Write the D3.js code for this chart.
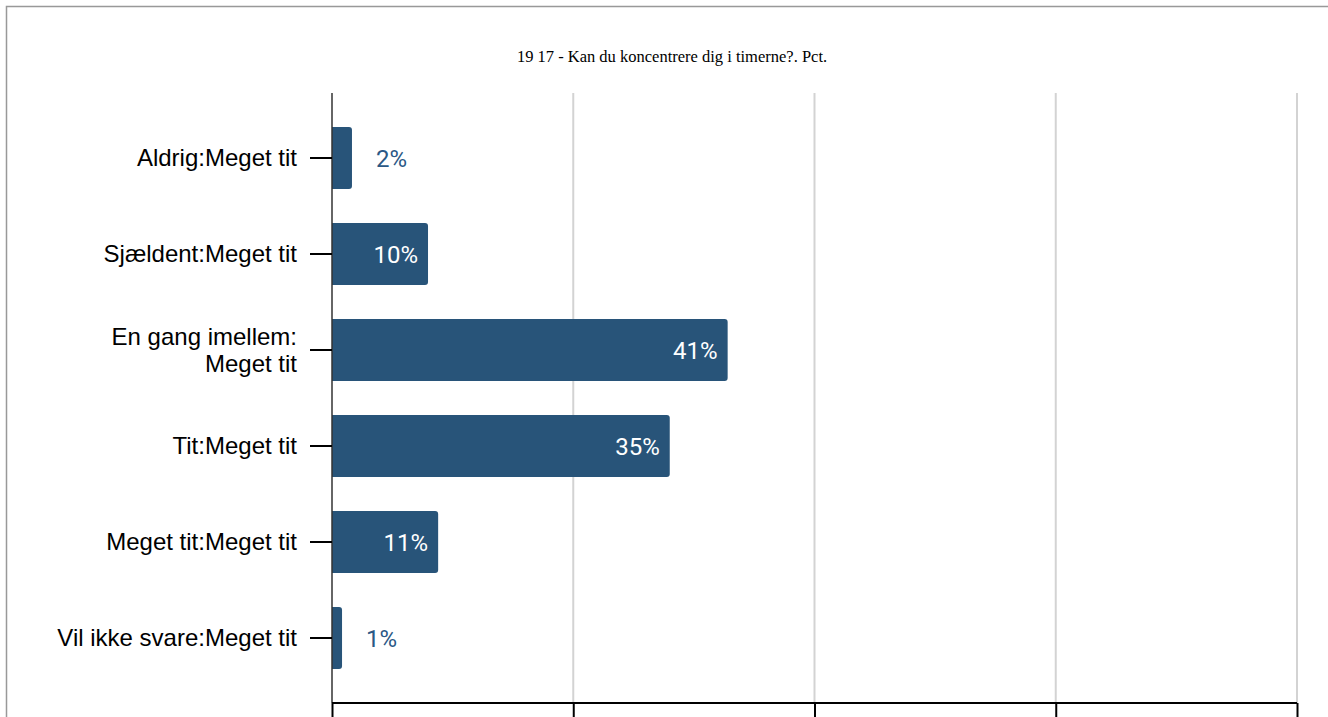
<!DOCTYPE html>
<html><head><meta charset="utf-8">
<script src="https://cdn.jsdelivr.net/npm/d3@7"></script>
<style>body{margin:0;background:#fff}svg{display:block}</style>
</head><body>
<svg id="c" width="1328" height="717"></svg>
<script>
const title = "19 17 - Kan du koncentrere dig i timerne?. Pct.";
const categories = ["Aldrig:Meget tit","Sjældent:Meget tit","En gang imellem:\nMeget tit","Tit:Meget tit","Meget tit:Meget tit","Vil ikke svare:Meget tit"];
const values = [2.07, 9.95, 41.0, 35.0, 11.0, 1.04];
const valueLabels = ["2%","10%","41%","35%","11%","1%"];
const xTicks = [0, 25, 50, 75, 100];

(function(){
const svg = d3.select("#c");
const barColor = "#285479";
const pLeft = 332, pRight = 1297, pTop = 93, pBottom = 703;

svg.append("rect").attr("x",6.5).attr("y",6.5).attr("width",1340).attr("height",740)
  .attr("fill","none").attr("stroke","#999").attr("stroke-width",1.5);

svg.append("text").attr("x",672).attr("y",62).attr("text-anchor","middle")
  .attr("font-family","'Liberation Serif', 'Times New Roman', serif").attr("font-size",16.5)
  .attr("fill","#000").text(title);

const x = d3.scaleLinear().domain([0,100]).range([pLeft,pRight]);
const y = d3.scaleBand().domain(categories).range([pTop,pBottom]).padding(0.354);

// grid
svg.append("g").selectAll("line").data(xTicks.slice(1)).join("line")
  .attr("x1",d=>x(d)).attr("x2",d=>x(d)).attr("y1",pTop).attr("y2",pBottom)
  .attr("stroke","#d3d3d3").attr("stroke-width",2);

// bars with rounded right corners
const r = 3;
svg.append("g").selectAll("path").data(values).join("path")
  .attr("fill", barColor)
  .attr("d",(d,i)=>{
    const x0 = x(0), x1 = x(d), y0 = y(categories[i]), h = y.bandwidth();
    const rr = Math.min(r, (x1-x0)/2);
    return `M${x0},${y0}H${x1-rr}Q${x1},${y0} ${x1},${y0+rr}V${y0+h-rr}Q${x1},${y0+h} ${x1-rr},${y0+h}H${x0}Z`;
  });

// value labels
svg.append("g").selectAll("text").data(values).join("text")
  .attr("font-family","Roboto, sans-serif").attr("font-size",24)
  .attr("dominant-baseline","central")
  .attr("y",(d,i)=>y(categories[i])+y.bandwidth()/2+1)
  .attr("x",(d,i)=> (x(d)-x(0) > 60) ? x(d)-10 : x(d)+24)
  .attr("text-anchor",(d)=> (x(d)-x(0) > 60) ? "end" : "start")
  .attr("fill",(d)=> (x(d)-x(0) > 60) ? "#fff" : "#2b5886")
  .text((d,i)=>valueLabels[i]);

// y axis
const yAxis = svg.append("g").attr("transform",`translate(${pLeft},0)`)
  .call(d3.axisLeft(y).tickSize(22).tickPadding(13).tickFormat(""));
yAxis.select(".domain").attr("stroke","#333").attr("stroke-width",1.5).attr("d",`M0,${pTop}V${pBottom}`);
yAxis.selectAll(".tick line").attr("stroke","#000").attr("stroke-width",2);
yAxis.selectAll(".tick").each(function(d){
  const lines = d.split("\n");
  const t = d3.select(this).append("text").attr("x",-35).attr("text-anchor","end")
    .attr("font-family","'Liberation Sans', Arial, sans-serif").attr("font-size",24).attr("fill","#000");
  const lh = 27;
  lines.forEach((l,k)=>{
    t.append("tspan").attr("x",-35).attr("y", (k-(lines.length-1)/2)*lh).attr("dy","0.35em").text(l);
  });
});

// x axis
const xAxis = svg.append("g").attr("transform",`translate(0,${pBottom})`)
  .call(d3.axisBottom(x).tickValues(xTicks).tickSize(20).tickFormat(""));
xAxis.select(".domain").attr("stroke","#000").attr("stroke-width",2).attr("d",`M${pLeft},0H${pRight}`);
xAxis.selectAll(".tick line").attr("stroke","#000").attr("stroke-width",2);
})();
</script>
</body></html>
